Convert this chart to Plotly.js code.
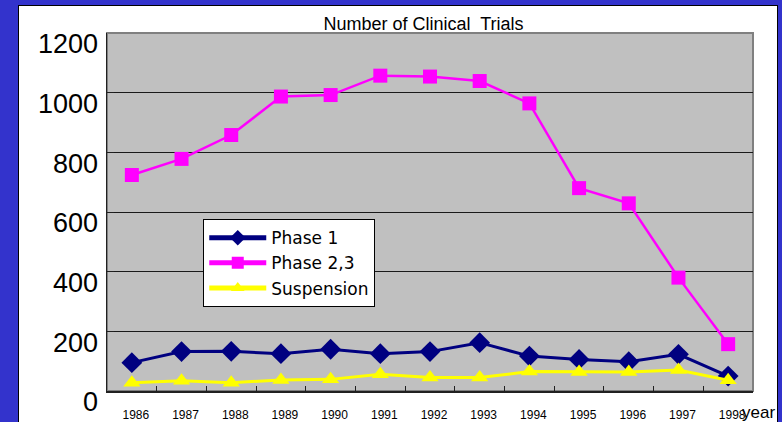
<!DOCTYPE html>
<html>
<head>
<meta charset="utf-8">
<script src="https://cdn.plot.ly/plotly-3.0.1.min.js"></script>
<style>
  html, body { margin: 0; padding: 0; background: #3333CC; width: 782px; height: 422px; overflow: hidden; }
  #panel { position: absolute; left: 18px; top: 5px; width: 758px; height: 417px; background: #fff; border: 1px solid #000; border-bottom: none; }
  #chart { position: absolute; left: 0; top: 0; width: 758px; height: 417px; }
</style>
</head>
<body>
<div id="panel"><div id="chart"></div></div>
<script>
const years = ["1986","1987","1988","1989","1990","1991","1992","1993","1994","1995","1996","1997","1998"];
const phase1 = [95, 132, 133, 125, 140, 125, 132, 162, 117, 106, 98, 123, 50];
const phase23 = [724, 778, 858, 987, 992, 1057, 1054, 1039, 964, 680, 629, 380, 157];
const suspension = [28, 34, 28, 37, 39, 56, 45, 45, 65, 64, 64, 70, 36];
const yTicks = [0, 200, 400, 600, 800, 1000, 1200];

const traces = [
  { x: years, y: phase1, name: "Phase 1", type: "scatter", mode: "lines+markers",
    line: { color: "#000080", width: 3 }, marker: { symbol: "diamond", size: 16, color: "#000080" } },
  { x: years, y: phase23, name: "Phase 2,3", type: "scatter", mode: "lines+markers",
    line: { color: "#FF00FF", width: 2.5 }, marker: { symbol: "square", size: 14, color: "#FF00FF" } },
  { x: years, y: suspension, name: "Suspension", type: "scatter", mode: "lines+markers",
    line: { color: "#FFFF00", width: 3 }, marker: { symbol: "triangle-up", size: 15, color: "#FFFF00" } }
];

const layout = {
  width: 758, height: 417,
  margin: { l: 88, r: 24, t: 27, b: 32 },
  paper_bgcolor: "#FFFFFF",
  plot_bgcolor: "#C0C0C0",
  font: { family: "Liberation Sans, Arial, sans-serif", color: "#000" },
  showlegend: true,
  title: { text: "Number of Clinical  Trials", font: { size: 18, color: "#000" },
           xref: "paper", x: 0.49, xanchor: "center", yref: "container", y: 0.958, yanchor: "middle" },
  xaxis: {
    type: "category", tickvals: years, ticktext: years, range: [-0.5, years.length - 0.5],
    showgrid: false, zeroline: false,
    showline: true, linecolor: "#202020", linewidth: 1.5,
    ticks: "inside", tickson: "boundaries", ticklen: 5, tickcolor: "#202020",
    tickfont: { size: 12, family: "Liberation Sans, Arial, sans-serif" },
    ticklabelstandoff: 12, ticklabelshift: 4, fixedrange: true
  },
  yaxis: {
    range: [0, 1200], tickvals: yTicks, ticktext: yTicks.map(String),
    showgrid: true, gridcolor: "#1a1a1a", gridwidth: 1, zeroline: false,
    showline: true, linecolor: "#202020", linewidth: 1.5,
    ticks: "inside", ticklen: 7, tickcolor: "#202020",
    tickfont: { size: 27, family: "Liberation Sans, Arial, sans-serif" },
    ticklabelshift: 11, ticklabelstandoff: 2, fixedrange: true
  },
  legend: {
    x: 0.149, y: 0.48, xanchor: "left", yanchor: "top",
    bgcolor: "#FFFFFF", bordercolor: "#000000", borderwidth: 1,
    font: { size: 17, family: "DejaVu Sans, sans-serif" },
    tracegroupgap: 0, itemsizing: "constant", itemwidth: 57
  },
  shapes: [
    { type: "rect", xref: "paper", yref: "paper", x0: 0, x1: 1, y0: 0, y1: 1,
      line: { color: "#808080", width: 2 }, layer: "below" }
  ],
  annotations: [
    { text: "year", xref: "paper", yref: "paper", x: 1.009, y: -0.061,
      xanchor: "center", yanchor: "middle", showarrow: false,
      font: { size: 17, family: "Liberation Sans, Arial, sans-serif", color: "#000" } }
  ]
};

Plotly.newPlot("chart", traces, layout, { displayModeBar: false, staticPlot: true });
</script>
</body>
</html>
